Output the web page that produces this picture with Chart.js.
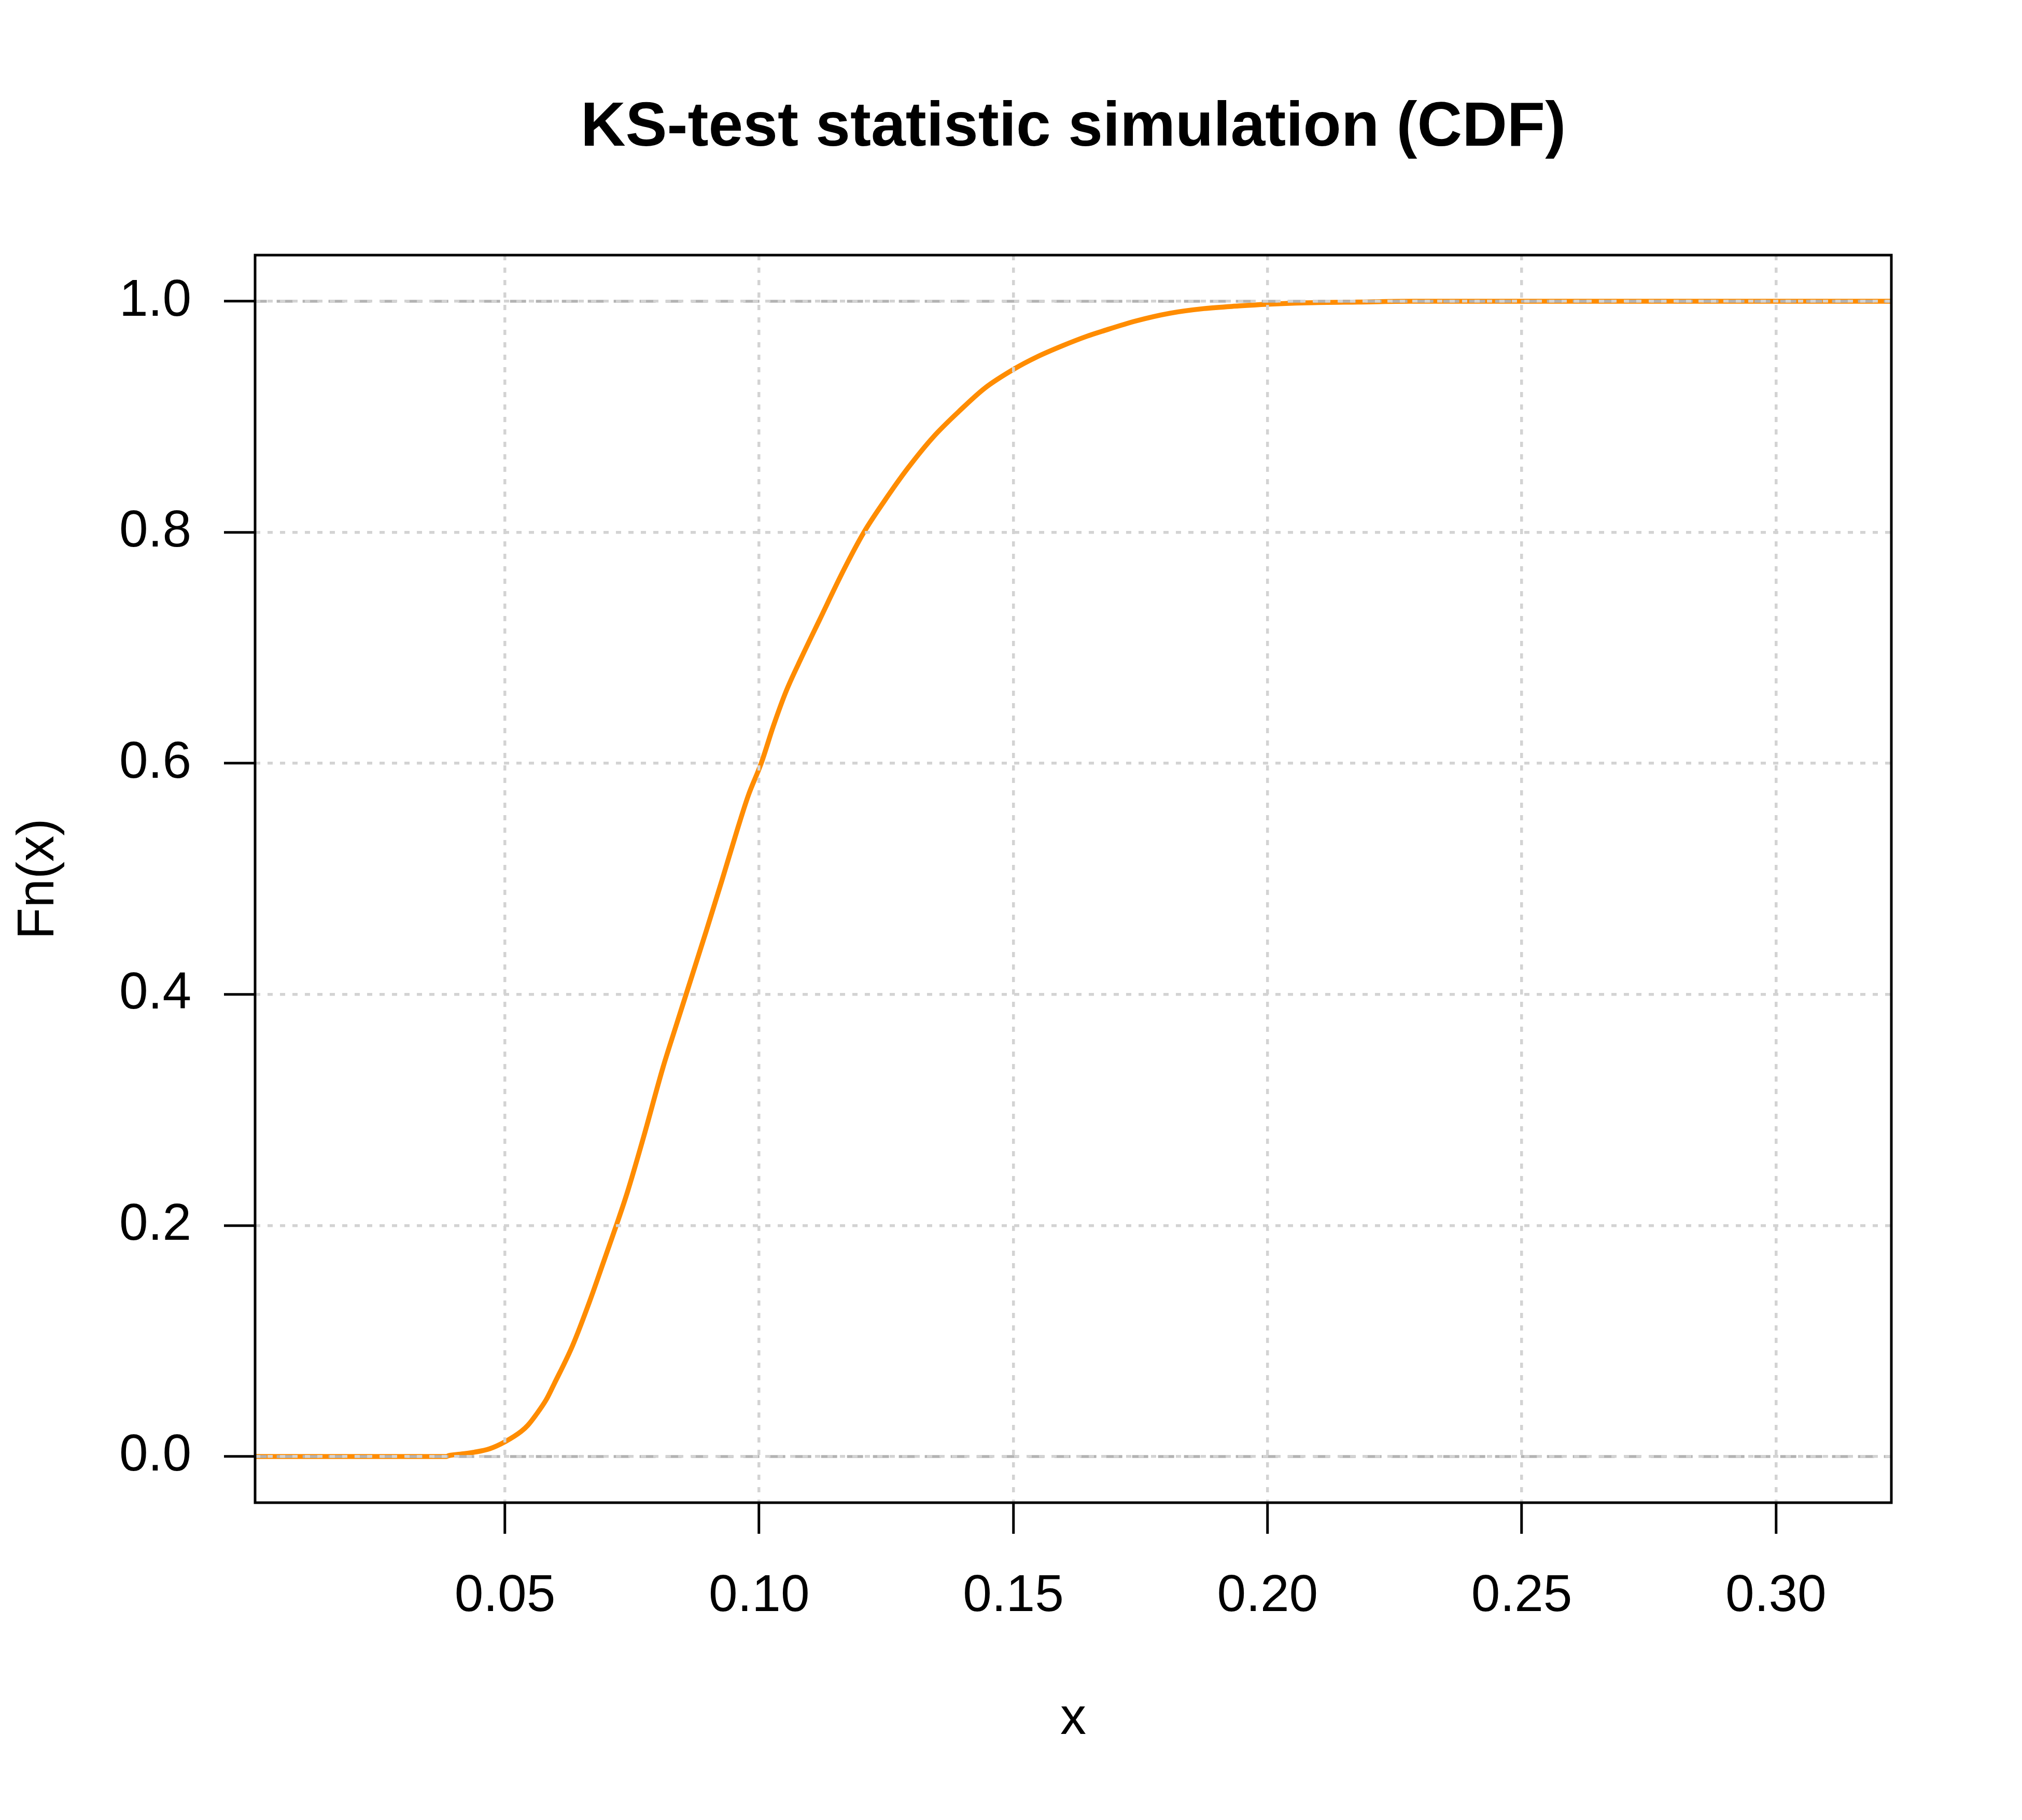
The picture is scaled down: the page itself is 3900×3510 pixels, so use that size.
<!DOCTYPE html>
<html>
<head>
<meta charset="utf-8">
<script src="https://cdn.jsdelivr.net/npm/chart.js@4.4.1/dist/chart.umd.min.js"></script>
<style>
html, body { margin: 0; padding: 0; background: #ffffff; }
canvas { display: block; }
</style>
</head>
<body>
<canvas id="c" width="3900" height="3510"></canvas>
<script>
// ---- data ----
const titleText = 'KS-test statistic simulation (CDF)';
const xLabel = 'x';
const yLabel = 'Fn(x)';
const xValues = [0, 0.0385, 0.0389, 0.0412, 0.0440, 0.0470, 0.0500, 0.0532, 0.0545, 0.0561,
  0.0581, 0.0597, 0.0633, 0.0668, 0.0692, 0.0719, 0.0741, 0.0773, 0.0811, 0.0836,
  0.0857, 0.0896, 0.0927, 0.0957, 0.0979, 0.1004, 0.1028, 0.1053, 0.1084, 0.1118,
  0.1167, 0.1206, 0.1246, 0.1292, 0.1342, 0.1393, 0.1444, 0.1501, 0.1546, 0.1597,
  0.1645, 0.1674, 0.1741, 0.1808, 0.1875, 0.1943, 0.2000, 0.2077, 0.2178, 0.2284, 0.3300];
const fnValues = [0, 0, 0.0007, 0.0020, 0.0037, 0.0067, 0.0127, 0.0217, 0.0270, 0.0360,
  0.0490, 0.0630, 0.0960, 0.1360, 0.1660, 0.2000, 0.2290, 0.2770, 0.3370, 0.3720,
  0.4010, 0.4550, 0.4990, 0.5426, 0.5726, 0.6000, 0.6324, 0.6624, 0.6923, 0.7235,
  0.7680, 0.8000, 0.8269, 0.8553, 0.8823, 0.9047, 0.9249, 0.9413, 0.9518, 0.9616,
  0.9698, 0.9740, 0.9830, 0.9897, 0.9937, 0.9960, 0.9975, 0.9987, 0.9994, 1.0000, 1.0000];
const xTicks = [0.05, 0.10, 0.15, 0.20, 0.25, 0.30];
const yTicks = [0.0, 0.2, 0.4, 0.6, 0.8, 1.0];
const refLevels = [0, 1];
const xRange = [0.00085, 0.3227];
const yRange = [-0.04, 1.04];

// ---- styling ----
const FONT = "'Liberation Sans', Arial, Helvetica, sans-serif";

const ecdfPoints = xValues.map((x, i) => ({ x: x, y: fnValues[i] }));
const refDatasets = refLevels.map(level => ({
  label: 'ref' + level,
  data: [{ x: xValues[0], y: level }, { x: xValues[xValues.length - 1], y: level }],
  borderColor: '#b3b3b3',
  borderWidth: 5.5,
  borderDash: [31, 19],
  pointRadius: 0,
  fill: false,
  clip: 0,
  order: 0
}));

const framePlugin = {
  id: 'frame',
  afterDraw(chart) {
    const { ctx, chartArea: a } = chart;
    ctx.save();
    ctx.strokeStyle = '#000000';
    ctx.lineWidth = 5;
    ctx.strokeRect(a.left, a.top, a.right - a.left, a.bottom - a.top);
    ctx.restore();
  }
};

new Chart(document.getElementById('c'), {
  type: 'line',
  data: {
    datasets: [
      ...refDatasets,
      {
        label: 'ecdf',
        data: ecdfPoints,
        borderColor: '#ff8c00',
        borderWidth: 9.5,
        borderJoinStyle: 'round',
        cubicInterpolationMode: 'monotone',
        pointRadius: 0,
        fill: false,
        clip: 0,
        order: 1
      }
    ]
  },
  options: {
    responsive: false,
    animation: false,
    devicePixelRatio: 1,
    layout: { padding: { left: 0, right: 252, top: 0, bottom: 0 } },
    plugins: {
      legend: { display: false },
      tooltip: { enabled: false },
      title: {
        display: true,
        text: titleText,
        fullSize: false,
        color: '#000000',
        font: { family: FONT, size: 120, weight: 'bold', lineHeight: 1.2 },
        padding: { top: 176, bottom: 172 }
      }
    },
    scales: {
      x: {
        type: 'linear',
        position: 'bottom',
        min: xRange[0],
        max: xRange[1],
        afterBuildTicks: s => { s.ticks = xTicks.map(v => ({ value: v })); },
        afterFit: s => { s.height = 612; },
        ticks: {
          color: '#000000',
          font: { family: FONT, size: 100, lineHeight: 1.2 },
          padding: 61,
          maxRotation: 0,
          autoSkip: false,
          callback: v => Number(v).toFixed(2)
        },
        grid: {
          color: '#d3d3d3',
          lineWidth: 5.5,
          z: 1,
          drawTicks: true,
          tickLength: 60,
          tickColor: '#000000',
          tickWidth: 5
        },
        border: { display: false, dash: [10, 14] },
        title: {
          display: true,
          text: xLabel,
          color: '#000000',
          font: { family: FONT, size: 100, lineHeight: 1 },
          padding: { top: 0, bottom: 144 }
        }
      },
      y: {
        type: 'linear',
        position: 'left',
        min: yRange[0],
        max: yRange[1],
        afterBuildTicks: s => { s.ticks = yTicks.map(v => ({ value: v })); },
        afterFit: s => { s.width = 492; },
        ticks: {
          color: '#000000',
          font: { family: FONT, size: 100, lineHeight: 1.2 },
          padding: 63,
          autoSkip: false,
          callback: v => Number(v).toFixed(1)
        },
        grid: {
          color: '#d3d3d3',
          lineWidth: 5.5,
          z: 1,
          drawTicks: true,
          tickLength: 60,
          tickColor: '#000000',
          tickWidth: 5
        },
        border: { display: false, dash: [10, 14] },
        title: {
          display: true,
          text: yLabel,
          color: '#000000',
          font: { family: FONT, size: 100, lineHeight: 1 },
          padding: { top: 25, bottom: 0 }
        }
      }
    }
  },
  plugins: [framePlugin]
});
</script>
</body>
</html>
